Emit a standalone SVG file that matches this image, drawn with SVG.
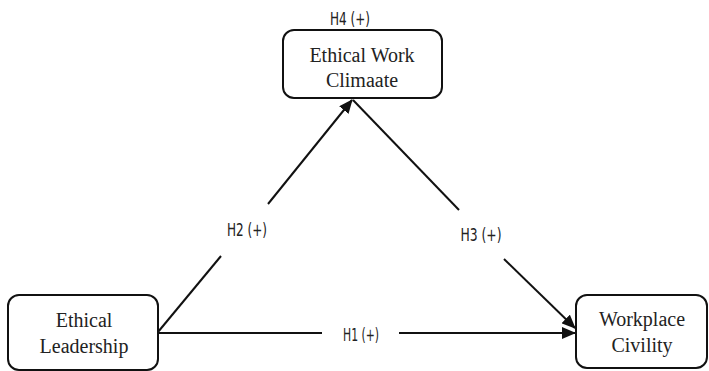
<svg xmlns="http://www.w3.org/2000/svg" width="709" height="371" viewBox="0 0 709 371">
<style>
.box{fill:#fff;stroke:#111;stroke-width:2}
.nt{font-family:"Liberation Serif",serif;font-size:20px;fill:#222;text-anchor:middle}
.lb{font-family:"DejaVu Sans Condensed","DejaVu Sans",sans-serif;font-stretch:condensed;font-size:18px;fill:#222;text-anchor:middle}
.ln{stroke:#111;stroke-width:2;fill:none}
</style>
<defs>
<marker id="ah" markerWidth="14" markerHeight="12" refX="13" refY="6" orient="auto" markerUnits="userSpaceOnUse">
<path d="M0,0 L14,6 L0,12 Z" fill="#111"/>
</marker>
</defs>
<rect width="709" height="371" fill="#fff"/>
<g id="connectors">
<line class="ln" x1="158" y1="333" x2="322" y2="333"/>
<line class="ln" x1="399" y1="333" x2="575" y2="333" marker-end="url(#ah)"/>
<line class="ln" x1="158" y1="332" x2="221" y2="256"/>
<line class="ln" x1="268" y1="204" x2="352" y2="100" marker-end="url(#ah)"/>
<line class="ln" x1="353" y1="100" x2="459" y2="210"/>
<line class="ln" x1="504" y1="259" x2="575" y2="328" marker-end="url(#ah)"/>
<text class="lb" x="361" y="341" textLength="36" lengthAdjust="spacingAndGlyphs">H1 (+)</text>
<text class="lb" x="247" y="236" textLength="40" lengthAdjust="spacingAndGlyphs">H2 (+)</text>
<text class="lb" x="481" y="241" textLength="41" lengthAdjust="spacingAndGlyphs">H3 (+)</text>
<text class="lb" x="350" y="25" textLength="40" lengthAdjust="spacingAndGlyphs">H4 (+)</text>
</g>
<g id="ethical-work-climate">
<rect class="box" x="283" y="30" width="159" height="68" rx="11"/>
<text class="nt" x="362" y="62">Ethical Work</text>
<text class="nt" x="362" y="87">Climaate</text>
</g>
<g id="ethical-leadership">
<rect class="box" x="8" y="295" width="150" height="75" rx="11"/>
<text class="nt" x="84" y="327">Ethical</text>
<text class="nt" x="84" y="353">Leadership</text>
</g>
<g id="workplace-civility">
<rect class="box" x="576" y="295" width="131" height="73" rx="11"/>
<text class="nt" x="642" y="326">Workplace</text>
<text class="nt" x="642" y="352">Civility</text>
</g>
</svg>
